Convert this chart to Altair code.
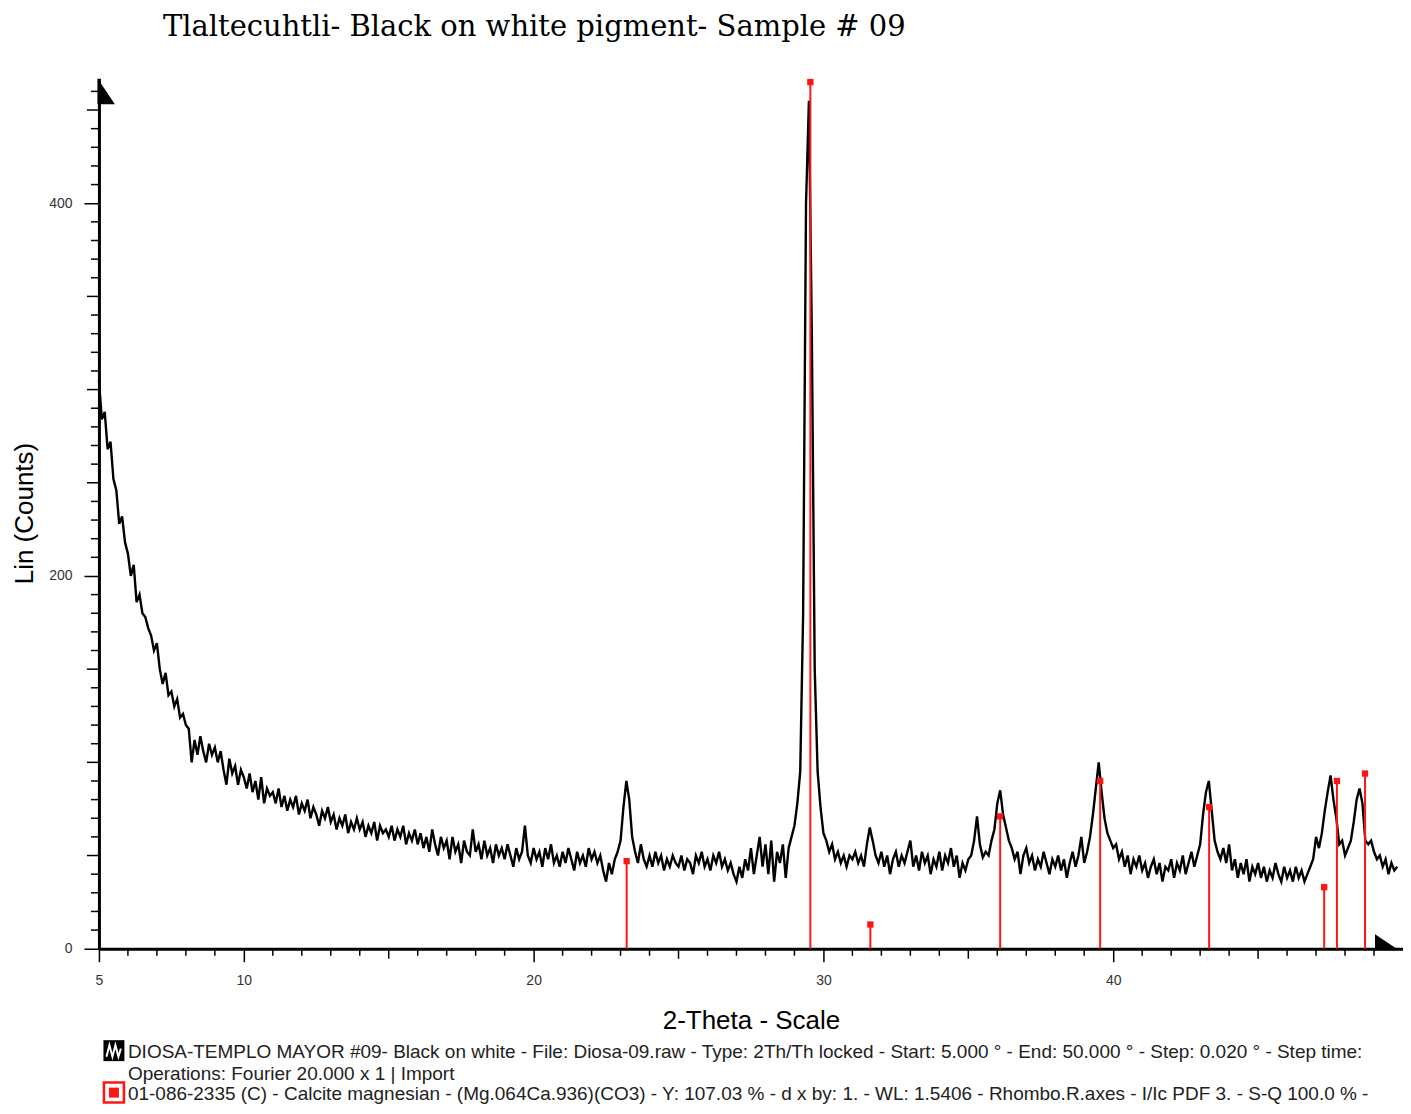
import altair as alt
import pandas as pd

TITLE = "Tlaltecuhtli- Black on white pigment- Sample # 09"
X_TITLE = "2-Theta - Scale"
Y_TITLE = "Lin (Counts)"
LEGEND_1 = ("DIOSA-TEMPLO MAYOR #09- Black on white - File: Diosa-09.raw - Type: 2Th/Th locked - "
            "Start: 5.000 ° - End: 50.000 ° - Step: 0.020 ° - Step time:")
LEGEND_2 = "Operations: Fourier 20.000 x 1 | Import"
LEGEND_3 = ("01-086-2335 (C) - Calcite magnesian - (Mg.064Ca.936)(CO3) - Y: 107.03 % - d x by: 1. - "
            "WL: 1.5406 - Rhombo.R.axes - I/Ic PDF 3. - S-Q 100.0 % -")

# scan, one value per 0.1 deg starting at 5.0 deg
THETA_START = 5.0
THETA_STEP = 0.1
COUNTS = [
    305, 284, 288, 268, 272, 252, 246, 228, 232, 218,   # 5
    212, 200, 206, 186, 190, 180, 178, 172, 168, 160,   # 6
    164, 150, 142, 148, 136, 138, 130, 134, 124, 126,   # 7
    120, 118, 100, 112, 104, 114, 106, 100, 110, 104,   # 8
    108, 100, 106, 96, 88, 102, 94, 98, 88, 96,         # 9
    92, 86, 94, 84, 90, 80, 92, 78, 86, 82,             # 10
    84, 78, 86, 76, 82, 74, 80, 76, 82, 72,             # 11
    78, 74, 80, 70, 76, 72, 66, 74, 70, 76,             # 12
    68, 72, 64, 70, 66, 72, 62, 68, 64, 70,             # 13
    64, 68, 60, 66, 62, 68, 58, 66, 62, 64,             # 14
    60, 66, 58, 64, 60, 66, 56, 62, 58, 64,             # 15
    56, 62, 54, 60, 52, 64, 56, 50, 60, 54,             # 16
    58, 48, 60, 52, 56, 46, 58, 52, 50, 64,             # 17
    52, 56, 48, 58, 50, 54, 46, 56, 50, 54,             # 18
    48, 56, 50, 44, 54, 48, 52, 66, 50, 46,             # 19
    54, 48, 52, 44, 54, 48, 56, 46, 50, 44,             # 20
    52, 46, 54, 48, 42, 52, 46, 50, 44, 54,             # 21
    48, 52, 46, 50, 42, 36, 46, 40, 48, 52,             # 22
    58, 76, 90, 80, 60, 52, 46, 56, 48, 44,             # 23
    50, 44, 52, 46, 50, 42, 48, 44, 50, 46,             # 24
    44, 50, 42, 48, 46, 40, 50, 46, 52, 44,             # 25
    48, 42, 50, 46, 52, 44, 48, 42, 46, 40,             # 26
    36, 44, 38, 48, 42, 54, 40, 50, 60, 44,             # 27
    56, 40, 58, 36, 52, 46, 56, 38, 54, 60,             # 28
    66, 78, 95, 180, 400, 455, 330, 150, 95, 76,        # 29
    62, 58, 52, 56, 48, 52, 46, 50, 44, 50,             # 30
    48, 52, 46, 50, 44, 56, 65, 58, 50, 46,             # 31
    52, 44, 50, 40, 48, 52, 44, 50, 46, 52,             # 32
    58, 44, 50, 42, 52, 46, 50, 40, 48, 44,             # 33
    52, 42, 50, 46, 54, 44, 50, 38, 46, 42,             # 34
    48, 50, 58, 71, 56, 49, 52, 50, 58, 64,             # 35
    78, 85, 72, 65, 58, 54, 48, 52, 40, 50,             # 36
    54, 46, 50, 42, 48, 44, 52, 46, 40, 48,             # 37
    44, 50, 42, 48, 38, 46, 52, 44, 50, 60,             # 38
    46, 52, 60, 72, 86, 100, 84, 70, 62, 58,            # 39
    54, 56, 48, 52, 44, 50, 40, 48, 44, 50,             # 40
    42, 46, 38, 44, 48, 40, 46, 36, 44, 42,             # 41
    48, 38, 46, 42, 50, 40, 46, 52, 44, 50,             # 42
    56, 72, 84, 90, 74, 58, 52, 48, 54, 46,             # 43
    56, 42, 48, 38, 46, 40, 48, 36, 44, 40,             # 44
    46, 38, 44, 36, 42, 38, 46, 40, 36, 44,             # 45
    38, 42, 36, 44, 38, 42, 36, 40, 44, 48,             # 46
    60, 54, 62, 74, 84, 93, 80, 70, 56, 58,             # 47
    50, 54, 58, 68, 80, 86, 78, 58, 56, 58,             # 48
    52, 48, 50, 44, 48, 40, 46, 42, 44,                 # 49
]

# reference pattern (red sticks)
PEAK_THETA = [23.21, 29.55, 31.62, 36.10, 39.55, 43.31, 47.28, 47.72, 48.69]
PEAK_COUNTS = [47, 465, 13, 71, 90, 76, 33, 90, 94]

X_DOMAIN = [5, 50]
Y_DOMAIN = [0, 467]
X_LABELS = [5, 10, 20, 30, 40]
Y_LABELS = [0, 200, 400]
X_MID_TICKS = [15, 25, 35, 45]
X_MINOR_TICKS = [v for v in range(6, 50) if v % 5]
Y_MID_TICKS = [50, 100, 150, 250, 300, 350, 450]
Y_MINOR_TICKS = [v for v in range(10, 467, 10) if v % 50]

W, H = 1305, 871
SANS = "Liberation Sans"
RED = "#ff1414"

xs = alt.Scale(domain=X_DOMAIN, nice=False, zero=False)
ys = alt.Scale(domain=Y_DOMAIN, nice=False, zero=True)

scan = pd.DataFrame({
    "theta": [round(THETA_START + THETA_STEP * i, 2) for i in range(len(COUNTS))],
    "counts": COUNTS,
})
peaks = pd.DataFrame({"theta": PEAK_THETA, "counts": PEAK_COUNTS, "base": [0] * len(PEAK_THETA)})

x_axis = alt.Axis(
    values=X_LABELS, title=X_TITLE, grid=False,
    domainColor="black", domainWidth=3, tickColor="black", tickWidth=1.5, tickSize=13,
    labelFont=SANS, labelFontSize=14, labelColor="#333", labelPadding=12, labelFlush=False,
    titleFont=SANS, titleFontSize=26, titleFontWeight="normal", titleColor="black",
    titleY=72, titleBaseline="middle",
)
y_axis = alt.Axis(
    values=Y_LABELS, title=Y_TITLE, grid=False,
    domainColor="black", domainWidth=3, tickColor="black", tickWidth=1.5, tickSize=15,
    labelFont=SANS, labelFontSize=14, labelColor="#333", labelPadding=12,
    titleFont=SANS, titleFontSize=26, titleFontWeight="normal", titleColor="black",
    titleX=-74, titleY=435, titleAngle=270, titleAlign="center", titleBaseline="middle",
)

X = alt.X("theta:Q", scale=xs, axis=x_axis)
Y = alt.Y("counts:Q", scale=ys, axis=y_axis)

line = alt.Chart(scan).mark_line(color="black", strokeWidth=2.4).encode(x=X, y=Y)

sticks = alt.Chart(peaks).mark_rule(color=RED, strokeWidth=2).encode(x=X, y=Y, y2="base:Q")
markers = alt.Chart(peaks).mark_point(shape="square", filled=True, size=40, color=RED, opacity=1).encode(x=X, y=Y)


def y_ticks(values, length):
    return alt.Chart(pd.DataFrame({"counts": values})).mark_rule(color="black", strokeWidth=1.5).encode(
        y=Y, x=alt.value(-length), x2=alt.value(0))


def x_ticks(values, length):
    return alt.Chart(pd.DataFrame({"theta": values})).mark_rule(color="black", strokeWidth=1.5).encode(
        x=X, y=alt.value(H), y2=alt.value(H + length))


arrow_y = alt.Chart(pd.DataFrame({"theta": [X_DOMAIN[0]], "counts": [Y_DOMAIN[1]]})).mark_point(
    shape="M-0.15,0 L-0.15,2.6 L1.6,2.6 Z", filled=True, color="black", size=400, opacity=1,
).encode(x=X, y=Y)

arrow_x = alt.Chart(pd.DataFrame({"theta": [X_DOMAIN[1]], "counts": [0]})).mark_point(
    shape="M-0.4,0.15 L-2.8,0.15 L-2.8,-1.45 Z", filled=True, color="black", size=400, opacity=1,
).encode(x=X, y=Y)

one = pd.DataFrame({"k": [0]})


def text_layer(txt, x, y, size, font=SANS, color="#222"):
    return alt.Chart(one).mark_text(
        text=txt, font=font, fontSize=size, align="left", baseline="middle", color=color,
    ).encode(x=alt.value(x), y=alt.value(y))


title = alt.Chart(one).mark_text(
    text=TITLE, font="DejaVu Serif", fontSize=29, align="left", baseline="alphabetic", color="black",
).encode(x=alt.value(64), y=alt.value(-42))

icon_scan_bg = alt.Chart(one).mark_point(shape="square", filled=True, color="black", size=440, opacity=1).encode(
    x=alt.value(15), y=alt.value(973))
icon_scan_wave = alt.Chart(one).mark_point(
    shape="M-0.75,0.6 L-0.45,-0.55 L-0.15,0.6 L0.15,-0.55 L0.45,0.6 L0.7,-0.2",
    filled=False, color="white", strokeWidth=2, size=400, opacity=1,
).encode(x=alt.value(15), y=alt.value(973))
icon_ref_out = alt.Chart(one).mark_point(shape="square", filled=False, color=RED, strokeWidth=2.5, size=400,
                                         opacity=1).encode(x=alt.value(15), y=alt.value(1015))
icon_ref_in = alt.Chart(one).mark_point(shape="square", filled=True, color=RED, size=100, opacity=1).encode(
    x=alt.value(15), y=alt.value(1015))

chart = alt.layer(
    line, sticks, markers,
    y_ticks(Y_MINOR_TICKS, 8), y_ticks(Y_MID_TICKS, 12),
    x_ticks(X_MINOR_TICKS, 7), x_ticks(X_MID_TICKS, 10),
    arrow_y, arrow_x, title,
    icon_scan_bg, icon_scan_wave, icon_ref_out, icon_ref_in,
    text_layer(LEGEND_1, 29, 974, 19),
    text_layer(LEGEND_2, 29, 996, 19),
    text_layer(LEGEND_3, 29, 1016, 19),
).properties(
    width=W, height=H,
    autosize=alt.AutoSizeParams(type="none"),
    padding={"left": 91, "top": 70, "right": 0, "bottom": 157},
).configure_view(stroke=None)

chart.save("out.html", embed_options={"renderer": "svg", "actions": False})
